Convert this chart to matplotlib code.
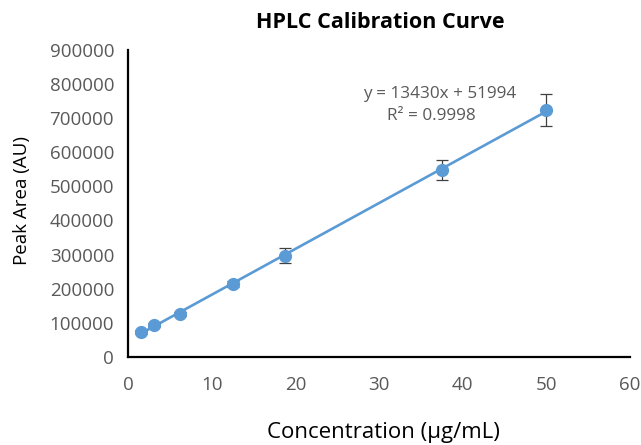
import numpy as np
import matplotlib.pyplot as plt

# calibration data
conc = [1.5625, 3.125, 6.25, 12.5, 18.75, 37.5, 50]
area = [73000, 94000, 127000, 214000, 297000, 548000, 724000]
err = [5000, 5000, 6000, 8000, 22000, 29000, 47000]
xticks = [0, 10, 20, 30, 40, 50, 60]
yticks = [0, 100000, 200000, 300000, 400000, 500000, 600000, 700000, 800000, 900000]

blue = '#5B9BD5'
gray = '#595959'
plt.rcParams['font.family'] = ['Open Sans', 'DejaVu Sans']

fig = plt.figure(figsize=(6.41, 4.45), dpi=100)
ax = fig.add_axes([0.1997, 0.198, 0.7833, 0.69])

# linear trendline over the data range
slope, icpt = np.polyfit(conc, area, 1)
xs = np.array([conc[0], conc[-1]])
ax.plot(xs, slope * xs + icpt, color=blue, lw=1.9, zorder=2)

ax.errorbar(conc, area, yerr=err, fmt='o', color=blue, ms=8.5,
            ecolor='#404040', elinewidth=0.9, capsize=4, capthick=0.9, zorder=3)

ax.text(46.4, 770000, 'y = 13430x + 51994', ha='right', va='center',
        fontsize=12.3, color=gray)
ax.text(36.3, 705000, 'R² = 0.9998', ha='center', va='center',
        fontsize=12.3, color=gray)

ax.set_xlim(0, 60)
ax.set_ylim(0, 900000)
ax.set_xticks(xticks)
ax.set_yticks(yticks)
ax.tick_params(length=0, labelsize=13.5, labelcolor=gray)
ax.tick_params(axis='x', pad=14)
ax.tick_params(axis='y', pad=10)
for s in ['top', 'right']:
    ax.spines[s].set_visible(False)
for s in ['left', 'bottom']:
    ax.spines[s].set_linewidth(1.6)
    ax.spines[s].set_color('black')

fig.text(0.593, 0.95, 'HPLC Calibration Curve', ha='center', va='center',
         fontsize=15.5, fontweight='bold')
fig.text(0.598, 0.028, 'Concentration (µg/mL)', ha='center', va='center', fontsize=16)
fig.text(0.035, 0.55, 'Peak Area (AU)', ha='center', va='center', rotation=90, fontsize=13.5)

fig.savefig('out.png', dpi=100)
